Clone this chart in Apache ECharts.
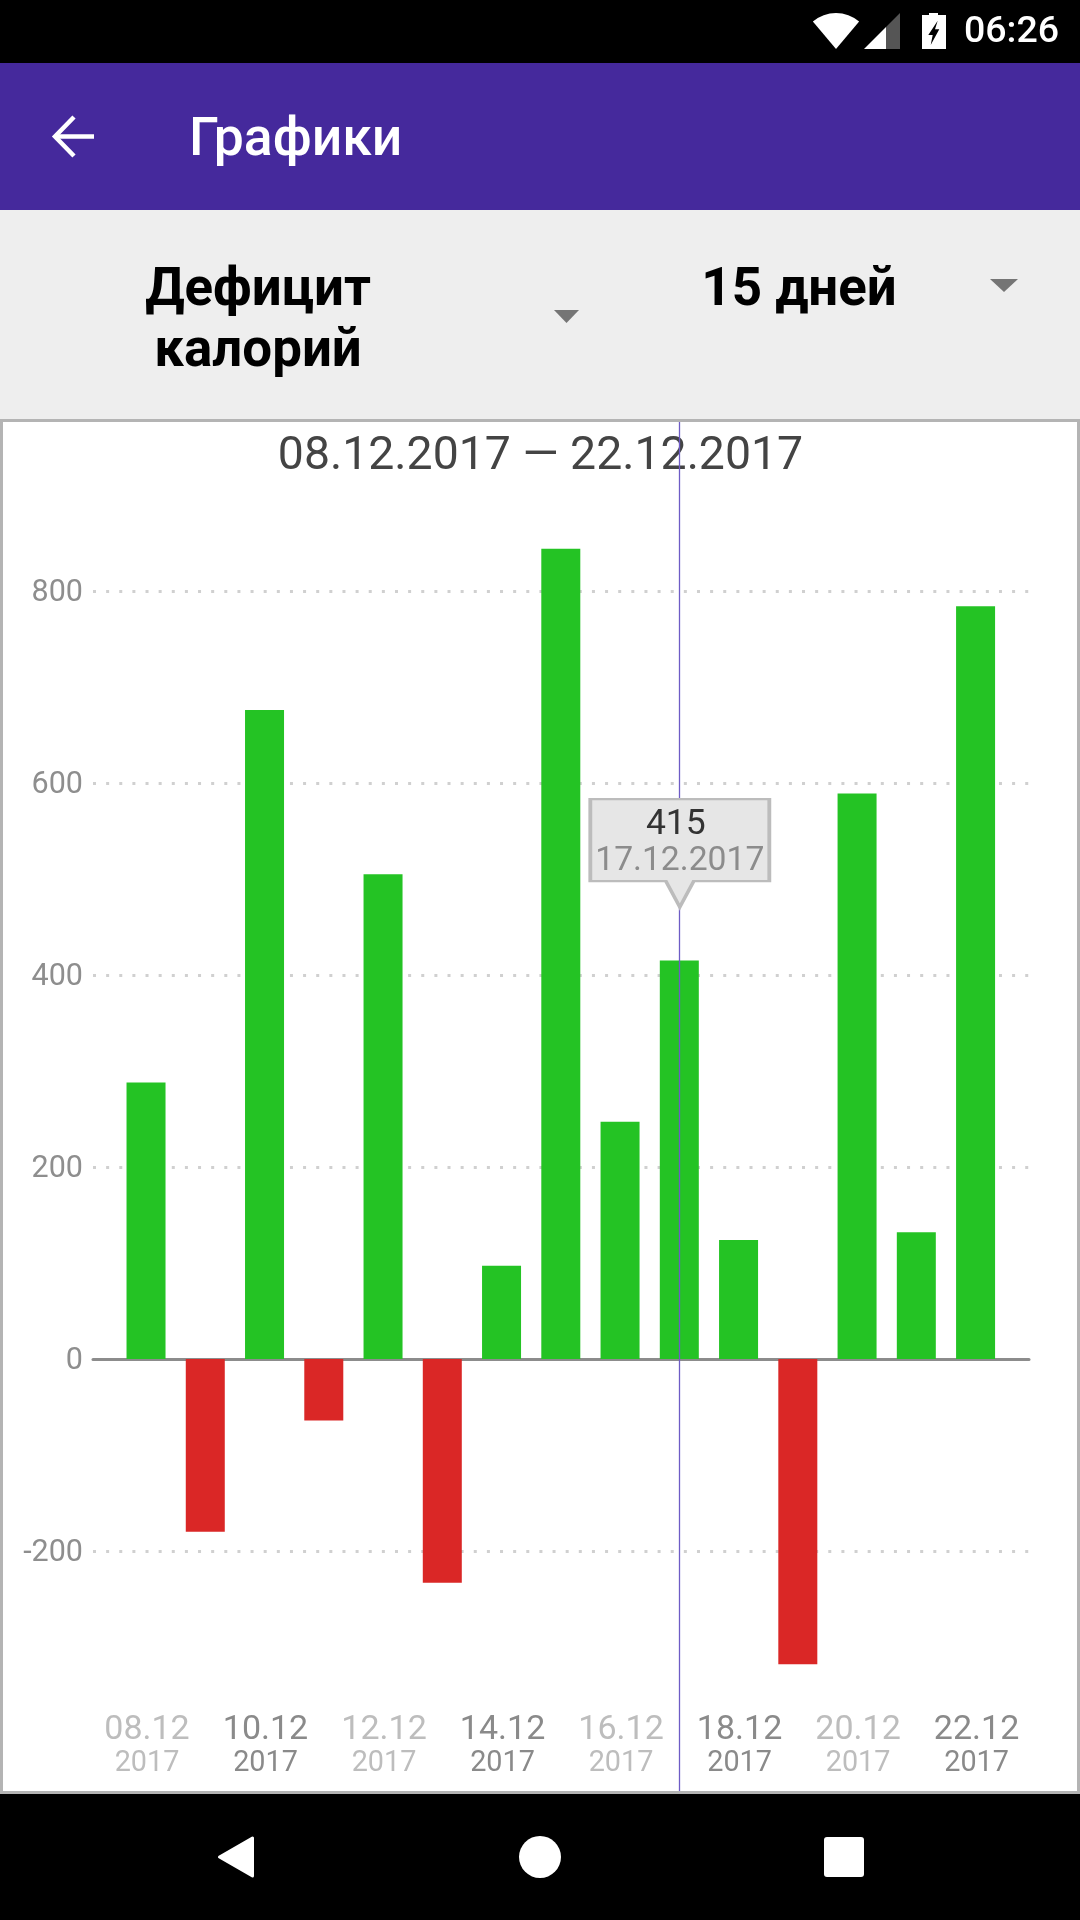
<!DOCTYPE html>
<html><head><meta charset="utf-8">
<style>html,body{margin:0;padding:0;background:#000}#c{width:1080px;height:1920px}</style>
<script src="https://cdn.jsdelivr.net/npm/echarts@6/dist/echarts.min.js"></script>
</head><body><div id="c"></div>
<script>
const categories = ['08.12','09.12','10.12','11.12','12.12','13.12','14.12','15.12','16.12','17.12','18.12','19.12','20.12','21.12','22.12'];
const deficit = [288,-180,676,-64,505,-233,97,844,247,415,124,-318,589,132,784];
const year = '2017';
const selected = 9;
const rangeTitle = '08.12.2017 — 22.12.2017';
const green = '#24c324', red = '#da2726';
const F = 'Roboto';

const chart = echarts.init(document.getElementById('c'), null, {renderer:'canvas', width:1080, height:1920});
const txt = (x,y,text,size,color,weight,align) => ({type:'text', z:1, silent:true, style:{x,y,text,fill:color,font:(weight||400)+' '+size+'px '+F,textAlign:align||'center',textVerticalAlign:'middle'}});
const poly = (pts,fill) => ({type:'polygon', z:1, silent:true, shape:{points:pts}, style:{fill}});
const rect = (x,y,w,h,fill,r) => ({type:'rect', z:0, silent:true, shape:{x,y,width:w,height:h,r:r||0}, style:{fill}});

const chrome = [
  rect(0,0,1080,63,'#000'),
  rect(0,63,1080,147,'#45299c'),
  rect(0,210,1080,209,'#eeeeee'),
  rect(0,1794,1080,126,'#000'),
  {type:'rect', z:0, silent:true, shape:{x:1.5,y:420.5,width:1077,height:1372}, style:{fill:'#fff',stroke:'#b4b4b4',lineWidth:3}},
  // status bar
  {type:'sector', z:1, silent:true, shape:{cx:836,cy:49,r:36,startAngle:-130*Math.PI/180,endAngle:-50*Math.PI/180}, style:{fill:'#fff'}},
  poly([[886,27],[900,13],[900,49],[886,49]],'#555'),
  poly([[864,49],[886,27],[886,49]],'#fff'),
  {type:'rect', z:0, silent:true, shape:{x:922,y:15,width:24,height:34}, style:{fill:'#fff'}},
  rect(929,13,9,3,'#fff'),
  poly([[937.7,20.7],[928.3,35],[932.7,35],[930.7,45],[939.3,29.3],[935,29.3]],'#000'),
  txt(1011.5,33,'06:26',37.5,'#fff',500),
  // toolbar
  {type:'polyline', z:1, silent:true, shape:{points:[[74,117],[55,136.5],[74,156]]}, style:{stroke:'#fff',lineWidth:4.5,fill:null}},
  {type:'line', z:1, silent:true, shape:{x1:55,y1:136.5,x2:94,y2:136.5}, style:{stroke:'#fff',lineWidth:4.5}},
  txt(189,142,'Графики',53.5,'#fff',500,'left'),
  // selectors
  txt(258,292,'Дефицит',52.9,'#000',700),
  txt(258,353,'калорий',52.9,'#000',700),
  poly([[554,310],[579,310],[566.5,323]],'#757575'),
  txt(799,292,'15 дней',52.9,'#000',700),
  poly([[990,279],[1018,279],[1004,292]],'#757575'),
  // nav bar
  {type:'polygon', z:1, silent:true, shape:{points:[[252.5,1838],[252.5,1876],[219.5,1857]]}, style:{fill:'#fff',stroke:'#fff',lineWidth:3,lineJoin:'round'}},
  {type:'circle', z:1, silent:true, shape:{cx:540,cy:1857,r:21}, style:{fill:'#fff'}},
  {type:'rect', z:1, silent:true, shape:{x:824,y:1837,width:40,height:40,r:3}, style:{fill:'#fff'}},
  // chart title
  txt(540.5,457.5,rangeTitle,46.4,'#444',400)
];

chart.setOption({
  animation:false,
  backgroundColor:'#000',
  graphic:{elements:chrome},
  grid:[
    {left:93, width:936, top:399, height:1344},
    {left:116.4, width:888.8, top:422, height:1369}
  ],
  xAxis:[
    {gridIndex:0, type:'value', min:0, max:1, axisLine:{show:true,onZero:true,lineStyle:{color:'#8c8c8c',width:3}}, axisTick:{show:false}, axisLabel:{show:false}, splitLine:{show:false}},
    {gridIndex:1, type:'category', data:categories, axisLine:{show:false}, axisTick:{show:false}, splitLine:{show:false},
     axisLabel:{interval:1, margin:-78,
       formatter:(v,i)=>{const k=i%4===0?'l':'d';return '{'+k+'1|'+v+'}\n{'+k+'2|'+year+'}';},
       rich:{
         l1:{fontFamily:F,fontSize:34,color:'#bdbdbd',lineHeight:35,align:'center',padding:[0,0,0,2]},
         l2:{fontFamily:F,fontSize:28.8,color:'#bdbdbd',lineHeight:32,align:'center',padding:[0,0,0,2]},
         d1:{fontFamily:F,fontSize:34,color:'#8a8a8a',lineHeight:35,align:'center',padding:[0,0,0,2]},
         d2:{fontFamily:F,fontSize:28.8,color:'#8a8a8a',lineHeight:32,align:'center',padding:[0,0,0,2]}
       }}}
  ],
  yAxis:[
    {gridIndex:0, type:'value', min:-400, max:1000, interval:200, axisLine:{show:false}, axisTick:{show:false},
     axisLabel:{margin:10,verticalAlign:'top',lineHeight:5,showMinLabel:false,showMaxLabel:false,fontFamily:F,fontSize:30.5,color:'#8e8e8e'},
     splitLine:{show:true,showMinLine:false,showMaxLine:false,lineStyle:{color:'#d0d0d0',width:3,type:[3,10.13]}}},
    {gridIndex:1, type:'value', min:-450, max:976, show:false, splitLine:{show:false}}
  ],
  series:[
    {type:'scatter', xAxisIndex:1, yAxisIndex:1, data:[], z:2, silent:true,
     markLine:{silent:true, symbol:'none', label:{show:false}, animation:false,
       lineStyle:{color:'#6e5cc6',width:1.3,type:'solid'},
       data:[{xAxis:categories[selected]}]}},
    {type:'bar', xAxisIndex:1, yAxisIndex:1, data:deficit, barWidth:39, z:3, silent:true,
     itemStyle:{color:p=>p.value<0?red:green},
     markPoint:{silent:true, animation:false,
       symbol:'path://M1 1H181V83H105L91 109L77 83H1Z',
       symbolSize:[179,108], symbolKeepAspect:false, symbolOffset:[0.5,-107.5],
       itemStyle:{color:'#e6e6e6',borderColor:'#bcbcbc',borderWidth:3},
       label:{show:true,position:'inside',offset:[0,-10],
         formatter:p=>'{v|'+p.value+'}\n{d|'+categories[selected]+'.'+year+'}',
         rich:{v:{fontFamily:F,fontSize:35.5,color:'#333',lineHeight:36,align:'center',padding:[0,8,0,0]},
               d:{fontFamily:F,fontSize:33.7,color:'#8c8c8c',lineHeight:35,align:'center'}}},
       data:[{coord:[categories[selected],deficit[selected]],value:deficit[selected]}]}}
  ]
});
</script></body></html>
